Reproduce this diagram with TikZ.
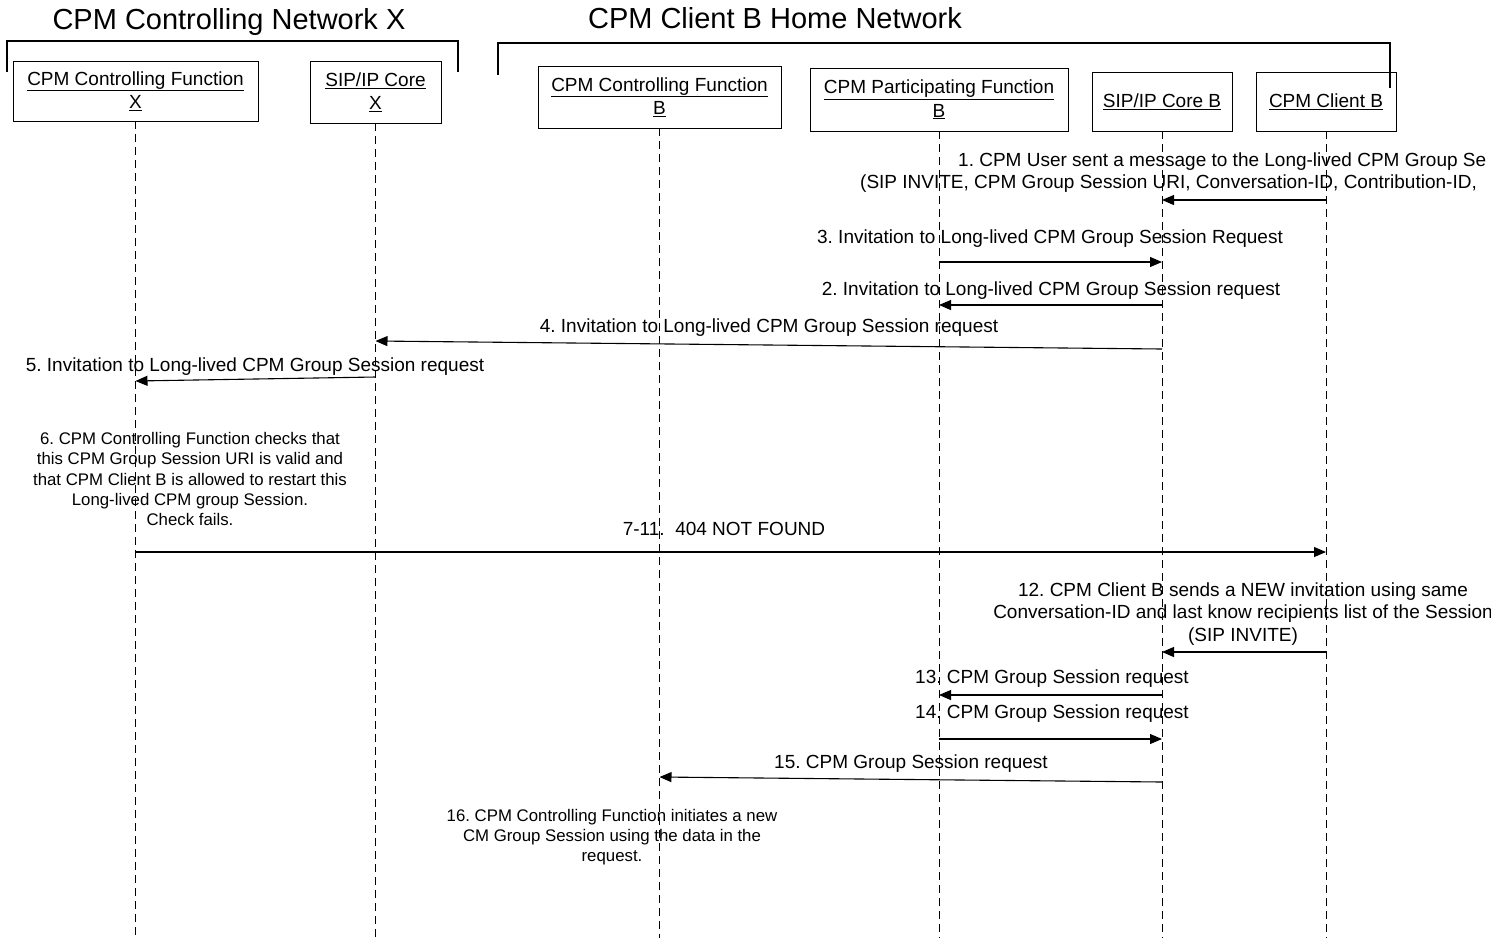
\documentclass[tikz,border=0pt]{standalone}
\usepackage{fontspec}
\setmainfont{Liberation Sans}
\usetikzlibrary{arrows.meta}
\frenchspacing
\begin{document}
\begin{tikzpicture}[x=1pt,y=-1pt,
 ent/.style={draw,line width=0.9pt,align=center,font=\fontsize{19}{23.5}\selectfont,inner sep=0pt},
 life/.style={dash pattern=on 8pt off 5pt,line width=0.9pt},
 msg/.style={line width=1.1pt,-{Triangle[length=12pt,width=10pt]}},
 lbl/.style={font=\fontsize{19}{22.5}\selectfont,inner sep=0pt,align=center,yshift=-2pt},
 note/.style={font=\fontsize{16.8}{20.3}\selectfont,align=center,inner sep=0pt},
 hdr/.style={font=\fontsize{29}{34}\selectfont,inner sep=0pt},
 brk/.style={line width=1.2pt}]
\useasboundingbox (0,0) rectangle (1491,938);

% headers and brackets
\node[hdr] (hx) at (229,22) {CPM Controlling Network X};
\node[hdr] (hb) at (775,18) {CPM Client B Home Network};
\draw[brk] (7,72) -- (7,41) -- (458,41) -- (458,72);
\draw[brk] (498,75) -- (498,43) -- (1390,43) -- (1390,88);

% entities
\node[ent,minimum width=245pt,minimum height=60pt] (cfx) at (135.5,91) {\underline{CPM Controlling Function}\\\underline{X}};
\node[ent,minimum width=131pt,minimum height=62pt] (sipx) at (375.5,92) {\underline{SIP/IP Core}\\\underline{X}};
\node[ent,minimum width=243pt,minimum height=62pt] (cfb) at (659.5,97) {\underline{CPM Controlling Function}\\\underline{B}};
\node[ent,minimum width=258pt,minimum height=63pt] (pfb) at (939,99.5) {\underline{CPM Participating Function}\\\underline{B}};
\node[ent,minimum width=140pt,minimum height=59pt] (sipb) at (1162,101.5) {\underline{SIP/IP Core B}};
\node[ent,minimum width=140pt,minimum height=59pt] (clb) at (1326,101.5) {\underline{CPM Client B}};

% lifelines
\foreach \n in {cfx,sipx,cfb,pfb,sipb,clb}{
  \coordinate (\n-end) at (\n |- 0,938);
  \draw[life] (\n.south) -- (\n-end);
}

% 1
\node[lbl,anchor=west] (t1a) at (958,160) {1. CPM User sent a message to the Long-lived CPM Group Se};
\node[lbl,anchor=west] (t1b) at (860,182) {(SIP INVITE, CPM Group Session URI, Conversation-ID, Contribution-ID,};
\draw[msg] (clb |- 0,200) -- (sipb |- 0,200);
% 3
\node[lbl] (t3) at (1050,237) {3. Invitation to Long-lived CPM Group Session Request};
\draw[msg] (pfb |- 0,262) -- (sipb |- 0,262);
% 2
\node[lbl] (t2) at (1051,289) {2. Invitation to Long-lived CPM Group Session request};
\draw[msg] (sipb |- 0,305) -- (pfb |- 0,305);
% 4
\node[lbl] (t4) at (769,326) {4. Invitation to Long-lived CPM Group Session request};
\draw[msg] (sipb |- 0,349) -- (sipx |- 0,341);
% 5
\node[lbl] (t5) at (255,365) {5. Invitation to Long-lived CPM Group Session request};
\draw[msg] (sipx |- 0,377) -- (cfx |- 0,381);
% 6
\node[note] (n6) at (190,479) {6. CPM Controlling Function checks that\\this CPM Group Session URI is valid and\\that CPM Client B is allowed to restart this\\Long-lived CPM group Session.\\Check fails.};
% 7-11
\node[lbl] (t7) at (724,527) {7-11.\ \ 404 NOT FOUND};
\draw[msg] (cfx |- 0,552) -- (clb |- 0,552);
% 12
\node[lbl] (t12) at (1243,612) {12. CPM Client B sends a NEW invitation using same\\Conversation-ID and last know recipients list of the Session\\(SIP INVITE)};
\draw[msg] (clb |- 0,652) -- (sipb |- 0,652);
% 13
\node[lbl] (t13) at (1052,677) {13. CPM Group Session request};
\draw[msg] (sipb |- 0,695) -- (pfb |- 0,695);
% 14
\node[lbl] (t14) at (1052,712) {14. CPM Group Session request};
\draw[msg] (pfb |- 0,739) -- (sipb |- 0,739);
% 15
\node[lbl] (t15) at (911,762) {15. CPM Group Session request};
\draw[msg] (sipb |- 0,782) -- (cfb |- 0,777);
% 16
\node[note] (n16) at (612,837) {16. CPM Controlling Function initiates a new\\CM Group Session using the data in the\\request.};
\end{tikzpicture}
\end{document}
